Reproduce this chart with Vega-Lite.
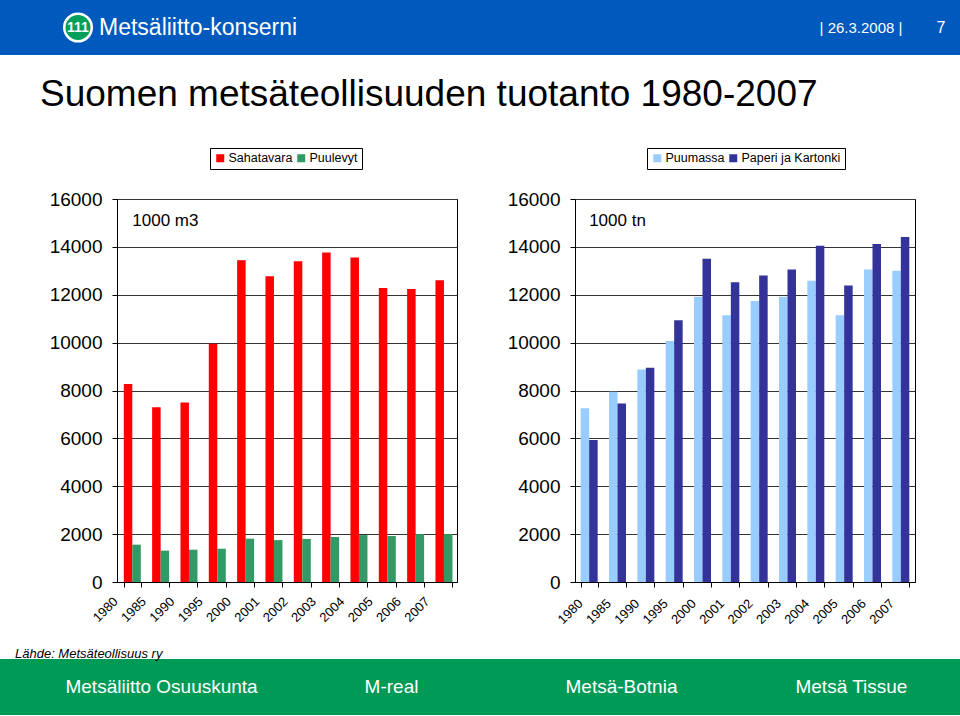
{
  "$schema": "https://vega.github.io/schema/vega-lite/v6.json",
  "padding": 0,
  "background": "white",
  "spacing": 21,
  "config": {
    "font": "Liberation Sans",
    "view": {"stroke": null},
    "axis": {"labelFont": "Liberation Sans", "labelColor": "#000", "domainColor": "#000", "tickColor": "#000"},
    "legend": {"labelFont": "Liberation Sans"}
  },
  "datasets": {
    "wood": [
      {"year": "1980", "series": "Sahatavara", "value": 8270},
      {"year": "1985", "series": "Sahatavara", "value": 7300},
      {"year": "1990", "series": "Sahatavara", "value": 7500},
      {"year": "1995", "series": "Sahatavara", "value": 9950},
      {"year": "2000", "series": "Sahatavara", "value": 13440},
      {"year": "2001", "series": "Sahatavara", "value": 12770},
      {"year": "2002", "series": "Sahatavara", "value": 13400},
      {"year": "2003", "series": "Sahatavara", "value": 13770},
      {"year": "2004", "series": "Sahatavara", "value": 13560},
      {"year": "2005", "series": "Sahatavara", "value": 12280},
      {"year": "2006", "series": "Sahatavara", "value": 12240},
      {"year": "2007", "series": "Sahatavara", "value": 12610},
      {"year": "1980", "series": "Puulevyt", "value": 1560},
      {"year": "1985", "series": "Puulevyt", "value": 1310},
      {"year": "1990", "series": "Puulevyt", "value": 1350},
      {"year": "1995", "series": "Puulevyt", "value": 1390},
      {"year": "2000", "series": "Puulevyt", "value": 1810},
      {"year": "2001", "series": "Puulevyt", "value": 1750},
      {"year": "2002", "series": "Puulevyt", "value": 1800},
      {"year": "2003", "series": "Puulevyt", "value": 1880},
      {"year": "2004", "series": "Puulevyt", "value": 1960},
      {"year": "2005", "series": "Puulevyt", "value": 1920},
      {"year": "2006", "series": "Puulevyt", "value": 2000},
      {"year": "2007", "series": "Puulevyt", "value": 2000}
    ],
    "paper": [
      {"year": "1980", "series": "Puumassa", "value": 7260},
      {"year": "1985", "series": "Puumassa", "value": 7950},
      {"year": "1990", "series": "Puumassa", "value": 8880},
      {"year": "1995", "series": "Puumassa", "value": 10070},
      {"year": "2000", "series": "Puumassa", "value": 11920},
      {"year": "2001", "series": "Puumassa", "value": 11140},
      {"year": "2002", "series": "Puumassa", "value": 11740},
      {"year": "2003", "series": "Puumassa", "value": 11920},
      {"year": "2004", "series": "Puumassa", "value": 12590},
      {"year": "2005", "series": "Puumassa", "value": 11140},
      {"year": "2006", "series": "Puumassa", "value": 13050},
      {"year": "2007", "series": "Puumassa", "value": 13000},
      {"year": "1980", "series": "Paperi ja Kartonki", "value": 5930},
      {"year": "1985", "series": "Paperi ja Kartonki", "value": 7460},
      {"year": "1990", "series": "Paperi ja Kartonki", "value": 8950},
      {"year": "1995", "series": "Paperi ja Kartonki", "value": 10930},
      {"year": "2000", "series": "Paperi ja Kartonki", "value": 13500},
      {"year": "2001", "series": "Paperi ja Kartonki", "value": 12520},
      {"year": "2002", "series": "Paperi ja Kartonki", "value": 12800},
      {"year": "2003", "series": "Paperi ja Kartonki", "value": 13050},
      {"year": "2004", "series": "Paperi ja Kartonki", "value": 14050},
      {"year": "2005", "series": "Paperi ja Kartonki", "value": 12390},
      {"year": "2006", "series": "Paperi ja Kartonki", "value": 14120},
      {"year": "2007", "series": "Paperi ja Kartonki", "value": 14410}
    ],
    "companies": [
      {"name": "Metsäliitto Osuuskunta"},
      {"name": "M-real"},
      {"name": "Metsä-Botnia"},
      {"name": "Metsä Tissue"}
    ]
  },
  "vconcat": [
    {
      "width": 843,
      "height": 55,
      "data": {"values": [{}]},
      "layer": [
        {
          "mark": {"type": "rect", "color": "#0059BD"},
          "encoding": {
            "x": {"datum": 0, "type": "quantitative", "scale": {"domain": [117, 960], "nice": false, "zero": false}, "axis": null},
            "x2": {"datum": 960}
          }
        },
        {
          "mark": {"type": "point", "shape": "circle", "filled": true, "fill": "#00A05A", "stroke": "white", "strokeWidth": 2.5, "size": 760, "opacity": 1},
          "encoding": {"x": {"datum": 78, "type": "quantitative", "scale": {"domain": [117, 960], "nice": false, "zero": false}, "axis": null}}
        },
        {
          "mark": {"type": "text", "text": "111", "color": "white", "fontSize": 14, "fontWeight": "bold", "font": "Liberation Sans"},
          "encoding": {"x": {"datum": 78, "type": "quantitative", "scale": {"domain": [117, 960], "nice": false, "zero": false}, "axis": null}}
        },
        {
          "mark": {"type": "text", "text": "Metsäliitto-konserni", "align": "left", "color": "white", "fontSize": 23, "font": "Liberation Sans"},
          "encoding": {"x": {"datum": 99, "type": "quantitative", "scale": {"domain": [117, 960], "nice": false, "zero": false}, "axis": null}}
        },
        {
          "mark": {"type": "text", "text": "|  26.3.2008  |", "color": "white", "fontSize": 15, "font": "Liberation Sans"},
          "encoding": {"x": {"datum": 861, "type": "quantitative", "scale": {"domain": [117, 960], "nice": false, "zero": false}, "axis": null}}
        },
        {
          "mark": {"type": "text", "text": "7", "color": "white", "fontSize": 16, "font": "Liberation Sans"},
          "encoding": {"x": {"datum": 941, "type": "quantitative", "scale": {"domain": [117, 960], "nice": false, "zero": false}, "axis": null}}
        }
      ]
    },
    {
      "title": {"text": "Suomen metsäteollisuuden tuotanto 1980-2007", "anchor": "start", "frame": "group", "fontSize": 37, "fontWeight": "normal", "font": "Liberation Sans", "color": "#000", "offset": 33, "dx": -77},
      "spacing": 48,
      "resolve": {"scale": {"color": "independent", "xOffset": "independent", "x": "independent", "y": "independent"}, "legend": {"color": "independent"}},
      "hconcat": [
        {
          "width": 340,
          "height": 383,
          "view": {"stroke": "#000", "strokeWidth": 1},
          "layer": [
            {
              "data": {"name": "wood"},
              "mark": {"type": "bar"},
              "encoding": {
                "x": {"field": "year", "type": "ordinal", "scale": {"paddingInner": 0.4, "paddingOuter": 0.2, "align": 0.6},
                  "axis": {"title": null, "labelAngle": -45, "labelFontSize": 13, "labelAlign": "right", "labelBaseline": "middle", "tickBand": "extent", "tickSize": 5, "labelPadding": 12, "labelOffset": -17, "grid": false}},
                "xOffset": {"field": "series", "sort": ["Sahatavara", "Puulevyt"]},
                "y": {"field": "value", "type": "quantitative", "scale": {"domain": [0, 16000], "nice": false},
                  "axis": {"title": null, "values": [0, 2000, 4000, 6000, 8000, 10000, 12000, 14000, 16000], "format": "d", "labelFontSize": 19, "tickSize": 5, "labelPadding": 10, "labelFlush": false, "gridColor": "#333", "gridOpacity": 1}},
                "color": {"field": "series", "type": "nominal",
                  "scale": {"domain": ["Sahatavara", "Puulevyt"], "range": ["#FF0000", "#339966"]},
                  "legend": {"orient": "none", "legendX": 93, "legendY": -51, "direction": "horizontal", "title": null, "symbolType": "square", "symbolSize": 64, "labelFontSize": 12.5, "labelColor": "#000", "strokeColor": "#000", "fillColor": "white", "padding": 4, "columnPadding": 2, "gridAlign": "none", "labelOffset": 2}}
              }
            },
            {
              "data": {"values": [{}]},
              "mark": {"type": "text", "text": "1000 m3", "align": "left", "fontSize": 17, "color": "#000"},
              "encoding": {"x": {"datum": "1980", "type": "ordinal"}, "y": {"datum": 15100, "type": "quantitative"}}
            }
          ]
        },
        {
          "width": 340,
          "height": 383,
          "view": {"stroke": "#000", "strokeWidth": 1},
          "layer": [
            {
              "data": {"name": "paper"},
              "mark": {"type": "bar"},
              "encoding": {
                "x": {"field": "year", "type": "ordinal", "scale": {"paddingInner": 0.4, "paddingOuter": 0.2},
                  "axis": {"title": null, "labelAngle": -45, "labelFontSize": 13, "labelAlign": "right", "labelBaseline": "middle", "tickBand": "extent", "tickSize": 5, "labelPadding": 14, "labelOffset": -9, "grid": false}},
                "xOffset": {"field": "series", "sort": ["Puumassa", "Paperi ja Kartonki"]},
                "y": {"field": "value", "type": "quantitative", "scale": {"domain": [0, 16000], "nice": false},
                  "axis": {"title": null, "values": [0, 2000, 4000, 6000, 8000, 10000, 12000, 14000, 16000], "format": "d", "labelFontSize": 19, "tickSize": 5, "labelPadding": 10, "labelFlush": false, "gridColor": "#333", "gridOpacity": 1}},
                "color": {"field": "series", "type": "nominal",
                  "scale": {"domain": ["Puumassa", "Paperi ja Kartonki"], "range": ["#99CCFF", "#333399"]},
                  "legend": {"orient": "none", "legendX": 72, "legendY": -51, "direction": "horizontal", "title": null, "symbolType": "square", "symbolSize": 64, "labelFontSize": 12.5, "labelColor": "#000", "strokeColor": "#000", "fillColor": "white", "padding": 4, "columnPadding": 2, "gridAlign": "none", "labelOffset": 2}}
              }
            },
            {
              "data": {"values": [{}]},
              "mark": {"type": "text", "text": "1000 tn", "align": "left", "fontSize": 17, "color": "#000"},
              "encoding": {"x": {"datum": "1980", "type": "ordinal"}, "y": {"datum": 15100, "type": "quantitative"}}
            }
          ]
        }
      ]
    },
    {
      "width": 843,
      "height": 56,
      "title": {"text": "Lähde: Metsäteollisuus ry", "anchor": "start", "frame": "group", "fontSize": 13, "fontStyle": "italic", "fontWeight": "normal", "font": "Liberation Sans", "color": "#000", "dx": -102, "dy": -5, "offset": -7},
      "resolve": {"scale": {"x": "independent"}},
      "layer": [
        {
          "data": {"values": [{}]},
          "mark": {"type": "rect", "color": "#009A57"},
          "encoding": {
            "x": {"datum": 0, "type": "quantitative", "scale": {"domain": [117, 960], "nice": false, "zero": false}, "axis": null},
            "x2": {"datum": 960}
          }
        },
        {
          "data": {"name": "companies"},
          "mark": {"type": "text", "color": "white", "fontSize": 19, "font": "Liberation Sans", "dx": -32},
          "encoding": {
            "x": {"field": "name", "type": "nominal", "sort": null, "axis": null, "scale": {"type": "point", "padding": 0.333}},
            "text": {"field": "name"}
          }
        }
      ]
    }
  ]
}
